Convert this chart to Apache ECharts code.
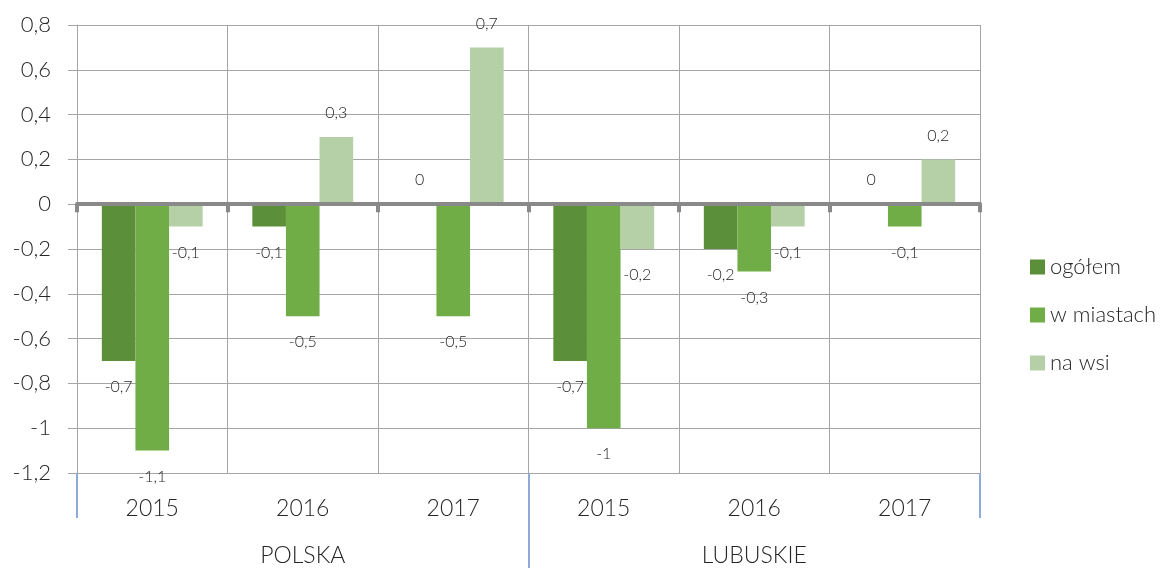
<!DOCTYPE html>
<html>
<head>
<meta charset="utf-8">
<title>ogółem / w miastach / na wsi</title>
<script src="https://cdn.jsdelivr.net/npm/echarts@6/dist/echarts.min.js"></script>
<style>
  html, body { margin: 0; padding: 0; background: #fff; }
  #chart { width: 1168px; height: 568px; }
</style>
</head>
<body>
<div id="chart"></div>
<script>
// 类目（年份）与分组
var years = ['2015', '2016', '2017', '2015', '2016', '2017'];
var groups = ['POLSKA', 'LUBUSKIE'];
var groupEdges = ['', '|', ''];// 只用来画中间的分隔线

// 系列数据
var seriesNames = ['ogółem', 'w miastach', 'na wsi'];
var ogolem = [-0.7, -0.1, 0, -0.7, -0.2, 0];
var wMiastach = [-1.1, -0.5, -0.5, -1.0, -0.3, -0.1];
var naWsi = [-0.1, 0.3, 0.7, -0.2, -0.1, 0.2];

// y轴范围
var yMin = -1.2;
var yMax = 0.8;
var yStep = 0.2;

var font = 'Lato';
var weight = 300;// 细一点，接近原图
var textColor = '#262626';
var gridColor = '#a5a5a5';
var colors = ['#5b8f3a', '#70ad47', '#b5cfa7'];

// 0.5 -> "0,5"
function fmt(v) {
  return String(Math.round(v * 10) / 10).replace('.', ',');
}

function makeSeries(name, values, color) {
  return {
    name: name,
    type: 'bar',
    xAxisIndex: 0,
    barGap: '0%',
    barCategoryGap: '33%',
    itemStyle: { color: color },
    label: {
      show: true,
      formatter: function (p) { return fmt(p.value); },
      fontFamily: font,
      fontWeight: weight,
      fontSize: 16,
      color: textColor
    },
    // 负值标签放在柱子下方，其余在上方
    data: values.map(function (v) {
      return {
        value: v,
        label: { position: v < 0 ? 'bottom' : 'top', distance: v < 0 ? 18 : 16 }
      };
    })
  };
}

var chart = echarts.init(document.getElementById('chart'));

var option = {
  backgroundColor: '#ffffff',
  animation: false,
  textStyle: { fontFamily: font, fontWeight: weight },
  grid: { left: 77, right: 188, top: 25, bottom: 95 },
  legend: {
    orient: 'vertical',
    left: 1025,
    top: 251,
    icon: 'rect',
    itemWidth: 15,
    itemHeight: 15,
    itemGap: 26,
    data: seriesNames,
    textStyle: { fontFamily: font, fontWeight: weight, fontSize: 22, color: textColor }
  },
  xAxis: [
    {// 零线 + 竖向网格
      type: 'category',
      data: years,
      position: 'bottom',
      z: 3,
      axisLine: { onZero: true, lineStyle: { color: '#898989', width: 4 } },
      axisTick: { show: true, interval: 0, length: 8, lineStyle: { color: '#898989', width: 4 } },
      axisLabel: { show: false },
      splitLine: { show: true, interval: 0, lineStyle: { color: gridColor, width: 1 } }
    },
    {// 年份标签
      type: 'category',
      data: years,
      position: 'bottom',
      axisLine: { show: false, onZero: false },
      axisTick: {
        show: true,
        interval: function (i) { return i % 3 === 0; },
        length: 45,
        lineStyle: { color: '#8eaadb', width: 2 }
      },
      axisLabel: { interval: 0, margin: 24, fontFamily: font, fontWeight: weight, fontSize: 23, color: textColor },
      splitLine: { show: false }
    },
    {// 分组标签
      type: 'category',
      data: groups,
      position: 'bottom',
      axisLine: { show: false, onZero: false },
      axisTick: { show: false },
      axisLabel: { interval: 0, margin: 71, fontFamily: font, fontWeight: weight, fontSize: 23, color: textColor },
      splitLine: { show: false }
    },
    {// 中间的长分隔线
      type: 'category',
      data: groupEdges,
      boundaryGap: false,
      position: 'bottom',
      axisLine: { show: false, onZero: false },
      axisTick: {
        show: true,
        interval: function (i) { return i === 1; },
        length: 96,
        lineStyle: { color: '#8eaadb', width: 2 }
      },
      axisLabel: { show: false },
      splitLine: { show: false }
    }
  ],
  yAxis: {
    type: 'value',
    min: yMin,
    max: yMax,
    interval: yStep,
    axisLine: { show: true, lineStyle: { color: gridColor } },
    axisTick: { show: true, length: 9, lineStyle: { color: gridColor } },
    axisLabel: { margin: 26, fontFamily: font, fontWeight: weight, fontSize: 22, color: textColor, formatter: fmt },
    splitLine: { show: true, lineStyle: { color: gridColor, width: 1 } }
  },
  series: [
    makeSeries(seriesNames[0], ogolem, colors[0]),
    makeSeries(seriesNames[1], wMiastach, colors[1]),
    makeSeries(seriesNames[2], naWsi, colors[2])
  ]
};

chart.setOption(option);
</script>
</body>
</html>
